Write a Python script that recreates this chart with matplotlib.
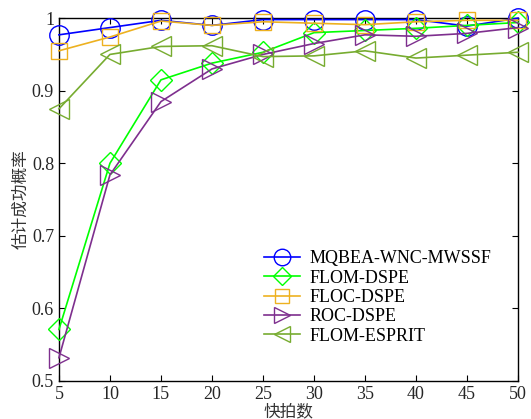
import matplotlib.pyplot as plt

snapshots = [5, 10, 15, 20, 25, 30, 35, 40, 45, 50]
mqbea = [0.977, 0.987, 0.997, 0.990, 0.998, 0.998, 0.998, 0.998, 0.989, 1.000]
flom_dspe = [0.571, 0.800, 0.915, 0.938, 0.953, 0.980, 0.983, 0.986, 0.990, 0.994]
floc_dspe = [0.955, 0.974, 0.996, 0.990, 0.995, 0.993, 0.991, 0.995, 0.997, 0.997]
roc_dspe = [0.532, 0.784, 0.885, 0.930, 0.950, 0.965, 0.977, 0.975, 0.979, 0.987]
flom_esprit = [0.875, 0.950, 0.961, 0.962, 0.947, 0.948, 0.955, 0.945, 0.949, 0.953]

plt.rcParams['font.family'] = ['Liberation Serif', 'Noto Sans CJK SC']
plt.rcParams['font.size'] = 10

fig = plt.figure(figsize=(5.31, 4.19), dpi=100)
ax = fig.add_axes([0.111, 0.0907, 0.8645, 0.866])

ms = 14
kw = dict(mfc='none', lw=1.2, clip_on=False, zorder=3)
ax.plot(snapshots, mqbea, color='#0000ff', marker='o', ms=ms, label='MQBEA-WNC-MWSSF', **kw)
ax.plot(snapshots, flom_dspe, color='#00ff00', marker='D', ms=ms * 0.8, label='FLOM-DSPE', **kw)
ax.plot(snapshots, floc_dspe, color='#edb120', marker='s', ms=ms * 0.85, label='FLOC-DSPE', **kw)
ax.plot(snapshots, roc_dspe, color='#7e2f8e', marker='>', ms=ms, label='ROC-DSPE', **kw)
ax.plot(snapshots, flom_esprit, color='#77ac30', marker='<', ms=ms, label='FLOM-ESPRIT', **kw)

ax.set_xlim(5, 50)
ax.set_ylim(0.5, 1.0)
ax.set_xticks(snapshots)
ax.set_yticks([0.5, 0.6, 0.7, 0.8, 0.9, 1.0])
ax.set_yticklabels(['0.5', '0.6', '0.7', '0.8', '0.9', '1'])
ax.tick_params(direction='in', top=True, right=True, labelsize=13, length=4.5,
               labelcolor='#262626')
for s in ax.spines.values():
    s.set_linewidth(1.0)

ax.set_xlabel('快拍数', family=['Noto Sans CJK SC'], fontsize=12, color='#333333', labelpad=0)
ax.set_ylabel('估计成功概率', family=['Noto Sans CJK SC'], fontsize=12, color='#333333', labelpad=2)

ax.legend(loc='lower left', bbox_to_anchor=(0.43, 0.08), frameon=False, fontsize=13,
          handlelength=2.0, labelspacing=0.13, borderaxespad=0, handletextpad=0.55,
          markerscale=0.85)

fig.savefig('out.png', dpi=100)
